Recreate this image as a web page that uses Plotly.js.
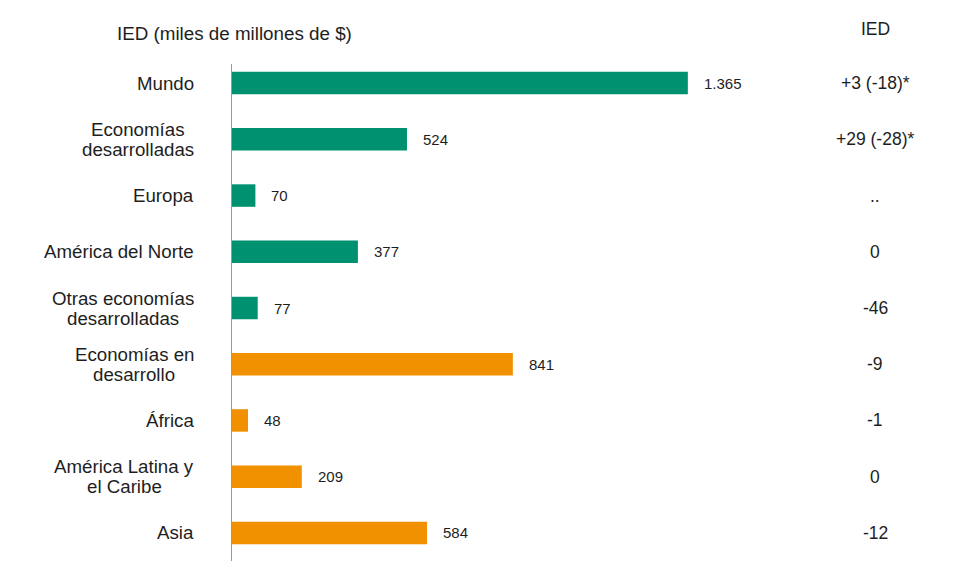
<!DOCTYPE html>
<html>
<head>
<meta charset="utf-8">
<script src="https://cdn.plot.ly/plotly-3.0.1.min.js"></script>
<style>html,body{margin:0;padding:0;background:#fff;}#chart{width:957px;height:561px;}</style>
</head>
<body>
<div id="chart"></div>
<script>
const categories = ["Mundo", "Economías<br>desarrolladas", "Europa", "América del Norte", "Otras economías<br>desarrolladas", "Economías en<br>desarrollo", "África", "América Latina y<br>el Caribe", "Asia"];
const values = [1365, 524, 70, 377, 77, 841, 48, 209, 584];
const groups = ["desarrolladas", "desarrolladas", "desarrolladas", "desarrolladas", "desarrolladas", "en desarrollo", "en desarrollo", "en desarrollo", "en desarrollo"];
const iedChange = ["+3 (-18)*", "+29 (-28)*", "..", "0", "-46", "-9", "-1", "0", "-12"];
const titleLeft = "IED (miles de millones de $)";
const titleRight = "IED";

const groupColor = {"desarrolladas": "#009270", "en desarrollo": "#F29100"};
const FONT = "Liberation Sans, Arial, sans-serif";
const TXT = "#1e1e1e";
const LABEL_SIZE = 18.7;
const PLOT_L = 232, PLOT_W = 725, LABEL_GAP = 38, LINE_H = 20;
const RIGHT_X = 0.887;

function fmt(v) { return String(v).replace(/\B(?=(\d{3})+(?!\d))/g, "."); }

const cv = document.createElement("canvas").getContext("2d");
cv.font = LABEL_SIZE + "px 'Liberation Sans'";

const ids = categories.map((c, i) => i);

const trace = {
  type: "bar",
  orientation: "h",
  x: values,
  y: ids,
  width: 0.4,
  marker: {color: groups.map(g => groupColor[g])},
  hoverinfo: "skip"
};

const annotations = [];
categories.forEach((c, i) => {
  const lines = c.split("<br>");
  const maxW = Math.max(...lines.map(l => cv.measureText(l).width));
  const cx = (-LABEL_GAP - maxW / 2) / PLOT_W;
  lines.forEach((ln, k) => {
    annotations.push({xref: "paper", yref: "y", x: cx, y: i, xanchor: "center", yanchor: "middle",
      yshift: ((lines.length - 1) / 2 - k) * LINE_H,
      text: ln, showarrow: false, font: {family: FONT, size: LABEL_SIZE, color: TXT}});
  });
  annotations.push({xref: "x", yref: "y", x: values[i], y: i, xshift: 14, xanchor: "left", yanchor: "middle",
    text: fmt(values[i]), showarrow: false, font: {family: FONT, size: 15, color: TXT}});
  annotations.push({xref: "paper", yref: "y", x: RIGHT_X, y: i, xanchor: "center", yanchor: "middle",
    text: iedChange[i], showarrow: false, font: {family: FONT, size: 17.5, color: TXT}});
});
annotations.push({xref: "paper", yref: "paper", x: 0.0035, y: 1, yshift: 31, xanchor: "center", yanchor: "middle",
  text: titleLeft, showarrow: false, font: {family: FONT, size: 18.8, color: TXT}});
annotations.push({xref: "paper", yref: "paper", x: RIGHT_X, y: 1, yshift: 35, xanchor: "center", yanchor: "middle",
  text: titleRight, showarrow: false, font: {family: FONT, size: 17.5, color: TXT}});

const layout = {
  width: 957, height: 561,
  margin: {l: PLOT_L, r: 0, t: 64, b: 0},
  paper_bgcolor: "#ffffff", plot_bgcolor: "#ffffff",
  showlegend: false,
  xaxis: {range: [0, 2171], showgrid: false, zeroline: false, showline: false, showticklabels: false, ticks: ""},
  yaxis: {range: [8.5, -0.34], showgrid: false, zeroline: false, showline: true, linecolor: "#9a9a9a", linewidth: 1.5,
    showticklabels: false, ticks: ""},
  annotations: annotations
};

Plotly.newPlot("chart", [trace], layout, {staticPlot: true, displayModeBar: false});
</script>
</body>
</html>
